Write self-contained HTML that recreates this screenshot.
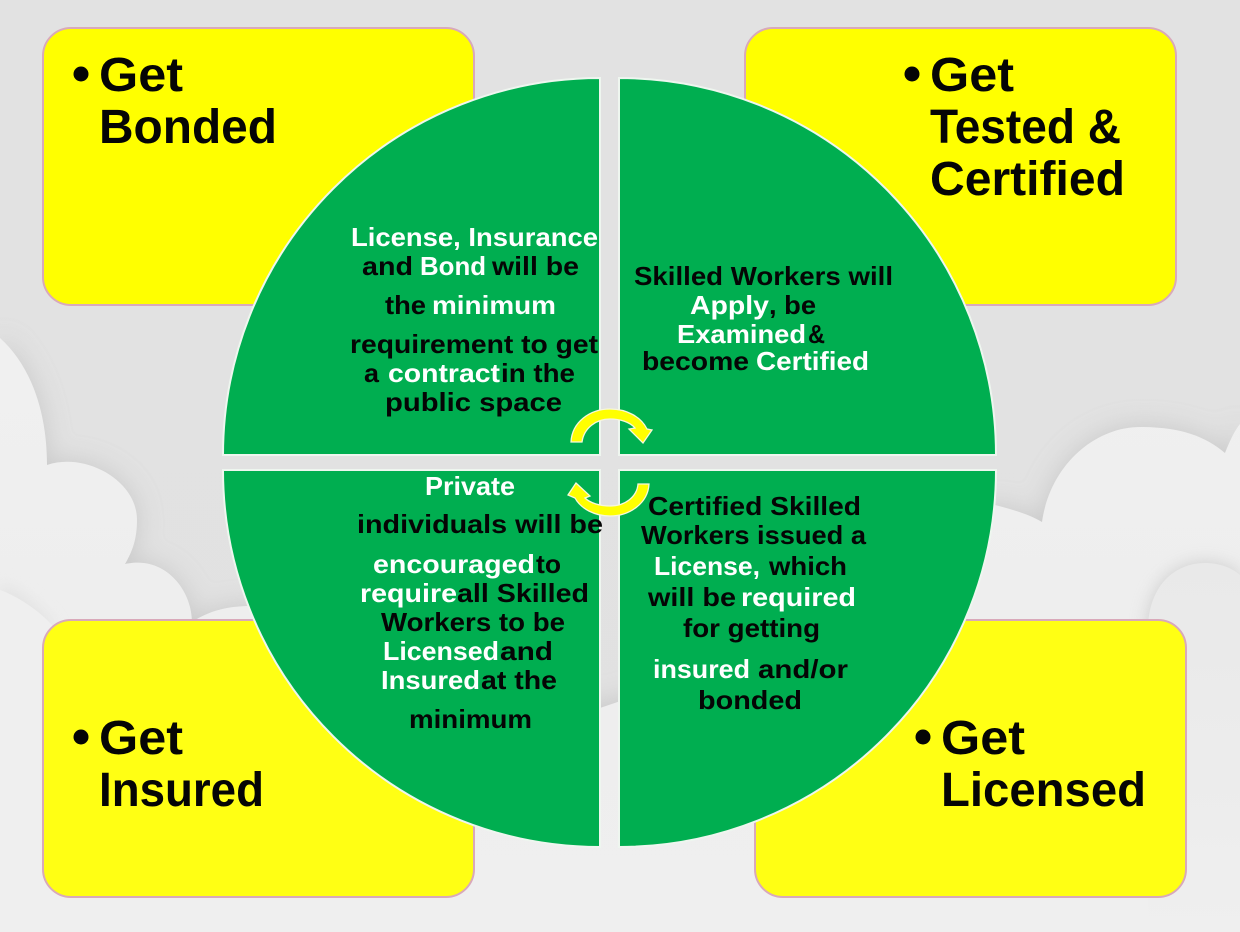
<!DOCTYPE html>
<html><head><meta charset="utf-8"><style>
html,body{margin:0;padding:0;width:1240px;height:932px;overflow:hidden;background:#e2e2e2}
svg{display:block;overflow:hidden}
text{font-family:"Liberation Sans",sans-serif;font-weight:700;fill:#050505}
.b{font-size:26px}.w{fill:#fff}
.h{font-size:48px}
</style></head><body>
<svg width="1240" height="932" viewBox="0 0 1240 932" xmlns="http://www.w3.org/2000/svg">
<defs>
<linearGradient id="bg" x1="0" y1="0" x2="0" y2="1"><stop offset="0" stop-color="#e2e2e2"/><stop offset="1" stop-color="#e1e1e1"/></linearGradient>
<linearGradient id="cl" x1="0" y1="0" x2="0" y2="1"><stop offset="0" stop-color="#f0f0f0"/><stop offset="0.5" stop-color="#eeeeee"/><stop offset="1" stop-color="#efefef"/></linearGradient>
<linearGradient id="c2" gradientUnits="userSpaceOnUse" x1="0" y1="563" x2="0" y2="932"><stop offset="0" stop-color="#e9e9e9"/><stop offset="0.55" stop-color="#ececec"/><stop offset="1" stop-color="#efefef"/></linearGradient>
<filter id="sh" x="0" y="0" width="100%" height="100%" filterUnits="userSpaceOnUse"><feGaussianBlur stdDeviation="13"/></filter>
<filter id="sh2" x="0" y="0" width="100%" height="100%" filterUnits="userSpaceOnUse"><feGaussianBlur stdDeviation="9"/></filter>
<clipPath id="fr"><rect width="1240" height="932"/></clipPath>
</defs>
<g clip-path="url(#fr)">
<rect width="1240" height="932" fill="url(#bg)"/>
<path filter="url(#sh)" fill="#bdbdbd" opacity=".7" d="M0,338C30,365 47,410 47,465C85,452 137,480 137,520C137,540 132,552 125,564C165,555 192,590 192,622C210,610 230,606 250,606L600,706L800,640L995,505C1015,510 1030,515 1042,522C1050,465 1095,427 1140,427C1180,427 1205,436 1225,453C1230,440 1235,430 1240,424V932H0Z"/>
<path fill="url(#cl)" d="M0,338C30,365 47,410 47,465C85,452 137,480 137,520C137,540 132,552 125,564C165,555 192,590 192,622C210,610 230,606 250,606L600,708L800,640L995,505C1015,510 1030,515 1042,522C1050,465 1095,427 1140,427C1180,427 1205,436 1225,453C1230,440 1235,430 1240,424V932H0Z"/>
<path filter="url(#sh2)" fill="#c6c6c6" opacity=".85" d="M1148,625C1150,585 1175,563 1205,563C1220,563 1232,568 1240,575V680H1148Z"/>
<path fill="url(#c2)" d="M1148,625C1150,585 1175,563 1205,563C1220,563 1232,568 1240,575V932H1148Z"/>
<path filter="url(#sh2)" fill="#d6d6d6" opacity=".6" d="M0,583C15,590 40,610 55,630L40,640L0,620Z"/>
<path fill="#efefef" d="M0,590C20,597 40,612 52,625L60,932H0Z"/>
<g stroke="#d9a9ba" stroke-width="2">
<rect x="43" y="28" width="431" height="277" rx="28" fill="#ffff00"/>
<rect x="745" y="28" width="431" height="277" rx="28" fill="#ffff00"/>
<rect x="43" y="620" width="431" height="277" rx="28" fill="#ffff14"/>
<rect x="755" y="620" width="431" height="277" rx="28" fill="#ffff14"/>
</g>
<g fill="#00ae50" stroke="#eef6ef" stroke-width="2">
<path d="M600,455V78A377,377 0 0 0 223,455Z"/>
<path d="M619,455V78A377,377 0 0 1 996,455Z"/>
<path d="M600,470V847A377,377 0 0 1 223,470Z"/>
<path d="M619,470V847A377,377 0 0 0 996,470Z"/>
</g>
<g fill="#ffff00" stroke="#f7f7dc" stroke-width="1.3" stroke-linejoin="miter">
<path d="M571,442C572,422 590,409 610,409C627,409 641,417 647,429L652,430L643,443L629,429L635,428C630,422 620,419 610,419C596,419 584,428 582,442Z"/>
<path d="M649,484C648,503 630,516 610,516C595,516 581,509 575,498L568,495L576,483L590,496L585,498C590,503 600,506 610,506C625,506 637,497 638,484Z"/>
</g>
<g fill="#050505">
<circle cx="81" cy="74" r="7.5"/><circle cx="912" cy="74" r="7.5"/><circle cx="81" cy="737" r="7.5"/><circle cx="923" cy="737" r="7.5"/>
</g>
<text class="h" x="99" y="91" textLength="84" lengthAdjust="spacingAndGlyphs">Get</text>
<text class="h" x="99" y="143" textLength="178" lengthAdjust="spacingAndGlyphs">Bonded</text>
<text class="h" x="930" y="91" textLength="84" lengthAdjust="spacingAndGlyphs">Get</text>
<text class="h" x="930" y="143" textLength="191" lengthAdjust="spacingAndGlyphs">Tested &amp;</text>
<text class="h" x="930" y="195" textLength="195" lengthAdjust="spacingAndGlyphs">Certified</text>
<text class="h" x="99" y="754" textLength="84" lengthAdjust="spacingAndGlyphs">Get</text>
<text class="h" x="99" y="806" textLength="165" lengthAdjust="spacingAndGlyphs">Insured</text>
<text class="h" x="941" y="754" textLength="84" lengthAdjust="spacingAndGlyphs">Get</text>
<text class="h" x="941" y="806" textLength="205" lengthAdjust="spacingAndGlyphs">Licensed</text>

<text class="b w" x="351" y="246" textLength="247" lengthAdjust="spacingAndGlyphs">License, Insurance</text>
<text class="b" x="362" y="275" textLength="51" lengthAdjust="spacingAndGlyphs">and</text>
<text class="b w" x="420" y="275" textLength="66" lengthAdjust="spacingAndGlyphs">Bond</text>
<text class="b" x="492" y="275" textLength="87" lengthAdjust="spacingAndGlyphs">will be</text>
<text class="b" x="385" y="314" textLength="41" lengthAdjust="spacingAndGlyphs">the</text>
<text class="b w" x="432" y="314" textLength="124" lengthAdjust="spacingAndGlyphs">minimum</text>
<text class="b" x="350" y="353" textLength="248" lengthAdjust="spacingAndGlyphs">requirement to get</text>
<text class="b" x="364" y="382" textLength="15" lengthAdjust="spacingAndGlyphs">a</text>
<text class="b w" x="388" y="382" textLength="112" lengthAdjust="spacingAndGlyphs">contract</text>
<text class="b" x="501" y="382" textLength="74" lengthAdjust="spacingAndGlyphs">in the</text>
<text class="b" x="385" y="411" textLength="177" lengthAdjust="spacingAndGlyphs">public space</text>

<text class="b" x="634" y="285" textLength="259" lengthAdjust="spacingAndGlyphs">Skilled Workers will</text>
<text class="b w" x="690" y="314" textLength="79" lengthAdjust="spacingAndGlyphs">Apply</text>
<text class="b" x="769" y="314" textLength="47" lengthAdjust="spacingAndGlyphs">, be</text>
<text class="b w" x="677" y="343" textLength="129" lengthAdjust="spacingAndGlyphs">Examined</text>
<text class="b" x="808" y="343" textLength="17" lengthAdjust="spacingAndGlyphs">&amp;</text>
<text class="b" x="642" y="370" textLength="107" lengthAdjust="spacingAndGlyphs">become</text>
<text class="b w" x="756" y="370" textLength="113" lengthAdjust="spacingAndGlyphs">Certified</text>

<text class="b w" x="425" y="495" textLength="90" lengthAdjust="spacingAndGlyphs">Private</text>
<text class="b" x="357" y="533" textLength="246" lengthAdjust="spacingAndGlyphs">individuals will be</text>
<text class="b w" x="373" y="573" textLength="162" lengthAdjust="spacingAndGlyphs">encouraged</text>
<text class="b" x="536" y="573" textLength="25" lengthAdjust="spacingAndGlyphs">to</text>
<text class="b w" x="360" y="602" textLength="97" lengthAdjust="spacingAndGlyphs">require</text>
<text class="b" x="457" y="602" textLength="132" lengthAdjust="spacingAndGlyphs">all Skilled</text>
<text class="b" x="381" y="631" textLength="184" lengthAdjust="spacingAndGlyphs">Workers to be</text>
<text class="b w" x="383" y="660" textLength="116" lengthAdjust="spacingAndGlyphs">Licensed</text>
<text class="b" x="500" y="660" textLength="53" lengthAdjust="spacingAndGlyphs">and</text>
<text class="b w" x="381" y="689" textLength="99" lengthAdjust="spacingAndGlyphs">Insured</text>
<text class="b" x="481" y="689" textLength="76" lengthAdjust="spacingAndGlyphs">at the</text>
<text class="b" x="409" y="728" textLength="123" lengthAdjust="spacingAndGlyphs">minimum</text>

<text class="b" x="648" y="515" textLength="213" lengthAdjust="spacingAndGlyphs">Certified Skilled</text>
<text class="b" x="641" y="544" textLength="225" lengthAdjust="spacingAndGlyphs">Workers issued a</text>
<text class="b w" x="654" y="575" textLength="106" lengthAdjust="spacingAndGlyphs">License,</text>
<text class="b" x="769" y="575" textLength="78" lengthAdjust="spacingAndGlyphs">which</text>
<text class="b" x="648" y="606" textLength="88" lengthAdjust="spacingAndGlyphs">will be</text>
<text class="b w" x="741" y="606" textLength="115" lengthAdjust="spacingAndGlyphs">required</text>
<text class="b" x="683" y="637" textLength="137" lengthAdjust="spacingAndGlyphs">for getting</text>
<text class="b w" x="653" y="678" textLength="97" lengthAdjust="spacingAndGlyphs">insured</text>
<text class="b" x="758" y="678" textLength="90" lengthAdjust="spacingAndGlyphs">and/or</text>
<text class="b" x="698" y="709" textLength="104" lengthAdjust="spacingAndGlyphs">bonded</text>
</g>
</svg>
</body></html>
